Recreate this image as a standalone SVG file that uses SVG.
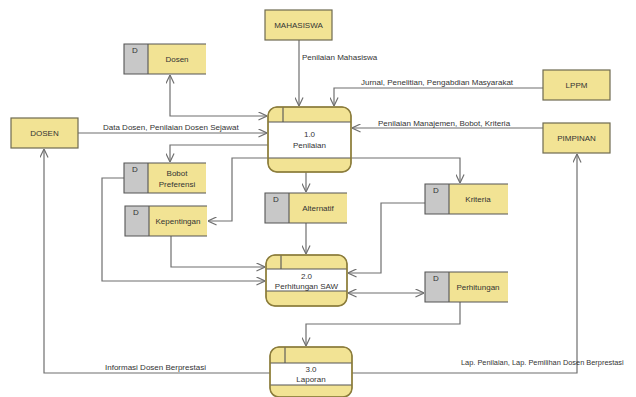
<svg xmlns="http://www.w3.org/2000/svg" width="636" height="397" viewBox="0 0 636 397">
<defs>
<style>
text{font-family:"Liberation Sans",Arial,sans-serif;font-size:8px;fill:#333}
.c{text-anchor:middle}
.ent{fill:#f2e394;stroke:#6e6a50;stroke-width:1.2}
.band{fill:#f2e394;stroke:#8c7d3c;stroke-width:1}
.pbody{fill:#ffffff;stroke:none}
.pout{fill:none;stroke:#8c7d3c;stroke-width:1.5}
.sd{fill:#c8c8c8}
.sy{fill:#f2e394}
.sl{fill:none;stroke:#555;stroke-width:1.1}
.ln{fill:none;stroke:#6f6f6f;stroke-width:1.2}
</style>
<marker id="ah" viewBox="0 0 10 10" refX="9.5" refY="5" markerWidth="9" markerHeight="9" markerUnits="userSpaceOnUse" orient="auto-start-reverse">
<polyline points="0,0.5 9.5,5 0,9.5" fill="none" stroke="#6f6f6f" stroke-width="1.3"/>
</marker>
</defs>
<rect width="636" height="397" fill="#fff"/>

<g id="connectors">
<path class="ln" d="M299,40 V106" marker-end="url(#ah)"/>
<text x="302" y="60">Penilaian Mahasiswa</text>
<path class="ln" d="M543,88 H334 V106" marker-end="url(#ah)"/>
<text x="361" y="85">Jurnal, Penelitian, Pengabdian Masyarakat</text>
<path class="ln" d="M543,128 H352" marker-end="url(#ah)"/>
<text x="378" y="126">Penilaian Manajemen, Bobot, Kriteria</text>
<path class="ln" d="M78,133 H267" marker-end="url(#ah)"/>
<text x="103" y="130">Data Dosen, Penilaian Dosen Sejawat</text>
<path class="ln" d="M170,75 V116 H267" marker-start="url(#ah)" marker-end="url(#ah)"/>
<path class="ln" d="M268,145 H170 V162" marker-end="url(#ah)"/>
<path class="ln" d="M268,158 H232 V221 H208" marker-end="url(#ah)"/>
<path class="ln" d="M351,158 H460 V183" marker-end="url(#ah)"/>
<path class="ln" d="M306,172 V192" marker-end="url(#ah)"/>
<path class="ln" d="M306,223 V254" marker-end="url(#ah)"/>
<path class="ln" d="M171,236 V267 H265" marker-end="url(#ah)"/>
<path class="ln" d="M124,178 H102 V281 H265" marker-end="url(#ah)"/>
<path class="ln" d="M425,203 H381 V273 H348" marker-end="url(#ah)"/>
<path class="ln" d="M348,293 H424" marker-start="url(#ah)" marker-end="url(#ah)"/>
<path class="ln" d="M460,302 V324 H306 V346" marker-end="url(#ah)"/>
<path class="ln" d="M270,373 H44 V149" marker-end="url(#ah)"/>
<text x="105" y="370">Informasi Dosen Berprestasi</text>
<path class="ln" d="M352,373 H577 V154" marker-end="url(#ah)"/>
<text x="461" y="365" style="font-size:7.4px">Lap. Penilaian, Lap. Pemilihan Dosen Berprestasi</text>
</g>

<g id="MAHASISWA">
<rect class="ent" x="265" y="10" width="67" height="30"/>
<text class="c" x="298.5" y="28">MAHASISWA</text>
</g>
<g id="LPPM">
<rect class="ent" x="543" y="70" width="67" height="30"/>
<text class="c" x="576.5" y="88">LPPM</text>
</g>
<g id="PIMPINAN">
<rect class="ent" x="543" y="123" width="67" height="30"/>
<text class="c" x="576.5" y="141">PIMPINAN</text>
</g>
<g id="DOSEN">
<rect class="ent" x="11" y="118" width="67" height="30"/>
<text class="c" x="44.5" y="136">DOSEN</text>
</g>

<g id="P1">
<rect class="band" x="268" y="107" width="83" height="65" rx="9"/>
<rect class="pbody" x="268.8" y="122" width="81.4" height="36"/>
<path class="sl" d="M268,122 H351 M268,158 H351 M283,107 V122"/>
<rect class="pout" x="268" y="107" width="83" height="65" rx="9"/>
<text class="c" x="309.5" y="137">1.0</text>
<text class="c" x="309.5" y="148">Penilaian</text>
</g>
<g id="P2">
<rect class="band" x="266" y="255" width="81" height="51" rx="9"/>
<rect class="pbody" x="266.8" y="269" width="79.4" height="22"/>
<path class="sl" d="M266,269 H347 M266,291 H347 M281,255 V269"/>
<rect class="pout" x="266" y="255" width="81" height="51" rx="9"/>
<text class="c" x="306.5" y="279">2.0</text>
<text class="c" x="306.5" y="289">Perhitungan SAW</text>
</g>
<g id="P3">
<rect class="band" x="270" y="347" width="82" height="50" rx="9"/>
<rect class="pbody" x="270.8" y="363" width="80.4" height="22"/>
<path class="sl" d="M270,363 H352 M270,385 H352 M285,347 V363"/>
<rect class="pout" x="270" y="347" width="82" height="50" rx="9"/>
<text class="c" x="311" y="372">3.0</text>
<text class="c" x="311" y="382">Laporan</text>
</g>

<g id="S_Dosen">
<rect class="sd" x="124" y="44" width="24" height="30"/>
<rect class="sy" x="148" y="44" width="58" height="30"/>
<path class="sl" d="M206,44 H124 V74 H206 M148,44 V74"/>
<text x="132" y="53">D</text>
<text class="c" x="177" y="62">Dosen</text>
</g>
<g id="S_Bobot">
<rect class="sd" x="124" y="163" width="24" height="30"/>
<rect class="sy" x="148" y="163" width="58" height="30"/>
<path class="sl" d="M206,163 H124 V193 H206 M148,163 V193"/>
<text x="132" y="172">D</text>
<text class="c" x="177" y="176">Bobot</text>
<text class="c" x="177" y="187">Preferensi</text>
</g>
<g id="S_Kepentingan">
<rect class="sd" x="125" y="206" width="24" height="30"/>
<rect class="sy" x="149" y="206" width="58" height="30"/>
<path class="sl" d="M207,206 H125 V236 H207 M149,206 V236"/>
<text x="133" y="215">D</text>
<text class="c" x="178" y="224">Kepentingan</text>
</g>
<g id="S_Alternatif">
<rect class="sd" x="265" y="193" width="24" height="30"/>
<rect class="sy" x="289" y="193" width="58" height="30"/>
<path class="sl" d="M347,193 H265 V223 H347 M289,193 V223"/>
<text x="273" y="202">D</text>
<text class="c" x="318" y="211">Alternatif</text>
</g>
<g id="S_Kriteria">
<rect class="sd" x="425" y="184" width="24" height="30"/>
<rect class="sy" x="449" y="184" width="59" height="30"/>
<path class="sl" d="M508,184 H425 V214 H508 M449,184 V214"/>
<text x="433" y="193">D</text>
<text class="c" x="478" y="202">Kriteria</text>
</g>
<g id="S_Perhitungan">
<rect class="sd" x="425" y="272" width="24" height="30"/>
<rect class="sy" x="449" y="272" width="59" height="30"/>
<path class="sl" d="M508,272 H425 V302 H508 M449,272 V302"/>
<text x="433" y="281">D</text>
<text class="c" x="478" y="290">Perhitungan</text>
</g>
</svg>
